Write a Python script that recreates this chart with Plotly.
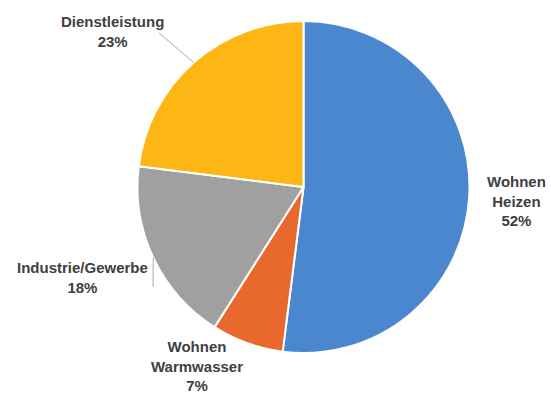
import math
import plotly.graph_objects as go

# Energy demand split by sector (share in %)
labels = ["Wohnen<br>Heizen", "Wohnen<br>Warmwasser", "Industrie/Gewerbe", "Dienstleistung"]
values = [52, 7, 18, 23]
colors = ["#4A87CF", "#E8692B", "#A0A0A0", "#FDB614"]

W, H = 551, 396
CX, CY, R = 303.5, 187.0, 166.0  # pie centre and radius in pixels


def px(x, y):
    """Pixel position -> paper coordinates."""
    return x / W, 1 - y / H


fig = go.Figure(
    go.Pie(
        labels=labels,
        values=values,
        sort=False,
        direction="clockwise",
        rotation=0,
        marker=dict(colors=colors, line=dict(color="white", width=2)),
        textinfo="none",
        hoverinfo="label+percent",
        domain=dict(
            x=[(CX - R) / W, (CX + R) / W],
            y=[(H - CY - R) / H, (H - CY + R) / H],
        ),
        showlegend=False,
    )
)

# label block centres (pixels) and optional leader-line end points
label_pos = [(516, 201), (197, 366), (82, 277), (112, 31)]
leader_end = [None, None, (153, 287), (159, 33)]

total = sum(values)
cum = 0
annotations = []
shapes = []
for lab, val, pos, end in zip(labels, values, label_pos, leader_end):
    mid = (cum + val / 2) / total * 2 * math.pi
    cum += val
    x, y = px(*pos)
    annotations.append(
        dict(
            x=x, y=y, xref="paper", yref="paper",
            text=f"<b>{lab}<br>{val}%</b>",
            showarrow=False, align="center",
            xanchor="center", yanchor="middle",
            font=dict(family="Liberation Sans, Arial, sans-serif", size=15, color="#404040"),
        )
    )
    if end is not None:
        rx = CX + R * math.sin(mid)
        ry = CY - R * math.cos(mid)
        x0, y0 = px(rx, ry)
        x1, y1 = px(*end)
        shapes.append(
            dict(type="line", xref="paper", yref="paper",
                 x0=x0, y0=y0, x1=x1, y1=y1,
                 line=dict(color="#A8A8B4", width=1))
        )

fig.update_layout(
    width=W, height=H,
    margin=dict(l=0, r=0, t=0, b=0),
    paper_bgcolor="white",
    plot_bgcolor="white",
    annotations=annotations,
    shapes=shapes,
)

fig.write_html("out.html")
